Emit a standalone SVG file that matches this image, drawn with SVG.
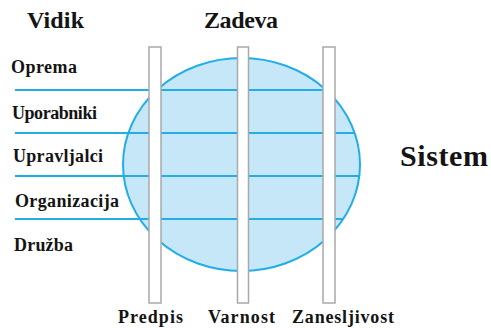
<svg xmlns="http://www.w3.org/2000/svg" width="491" height="328" viewBox="0 0 491 328">
<style>
.t{font-family:"Liberation Serif","Times New Roman",serif;font-weight:bold;fill:#141414}
.lbl{font-size:18px}
.hd{font-size:24px}
.ln{stroke:#22ade8;stroke-width:2;fill:none}
.bar{fill:#ffffff;stroke:#a9a9a9;stroke-width:1.5}
</style>
<rect width="491" height="328" fill="#ffffff"/>
<g id="sistem">
<ellipse cx="241.5" cy="164.5" rx="118.5" ry="106.5" fill="#c6e7f8" stroke="#22ade8" stroke-width="2"/>
<text class="t" x="400" y="166" font-size="30" textLength="88" lengthAdjust="spacing">Sistem</text>
</g>
<g id="connectors">
<line class="ln" x1="15" y1="90" x2="326" y2="90"/>
<line class="ln" x1="15" y1="133" x2="355" y2="133"/>
<line class="ln" x1="15" y1="176" x2="360" y2="176"/>
<line class="ln" x1="15" y1="219" x2="343" y2="219"/>
</g>
<g id="predpis">
<rect class="bar" x="149" y="47" width="12" height="256"/>
<text class="t lbl" x="118" y="323" textLength="65" lengthAdjust="spacing">Predpis</text>
</g>
<g id="varnost">
<rect class="bar" x="237.5" y="47" width="11" height="256"/>
<text class="t lbl" x="208" y="323" textLength="67" lengthAdjust="spacing">Varnost</text>
</g>
<g id="zanesljivost">
<rect class="bar" x="323" y="47" width="12" height="256"/>
<text class="t lbl" x="292" y="323" textLength="102" lengthAdjust="spacing">Zanesljivost</text>
</g>
<g id="vidik">
<text class="t hd" x="27" y="28" textLength="57" lengthAdjust="spacing">Vidik</text>
</g>
<g id="zadeva">
<text class="t hd" x="204" y="28" textLength="74" lengthAdjust="spacing">Zadeva</text>
</g>
<g id="oprema"><text class="t lbl" x="11" y="73" textLength="66" lengthAdjust="spacing">Oprema</text></g>
<g id="uporabniki"><text class="t lbl" x="12" y="119" textLength="85" lengthAdjust="spacing">Uporabniki</text></g>
<g id="upravljalci"><text class="t lbl" x="13" y="162" textLength="90" lengthAdjust="spacing">Upravljalci</text></g>
<g id="organizacija"><text class="t lbl" x="15" y="207" textLength="104" lengthAdjust="spacing">Organizacija</text></g>
<g id="druzba"><text class="t lbl" x="14" y="251" textLength="59" lengthAdjust="spacing">Družba</text></g>
</svg>
